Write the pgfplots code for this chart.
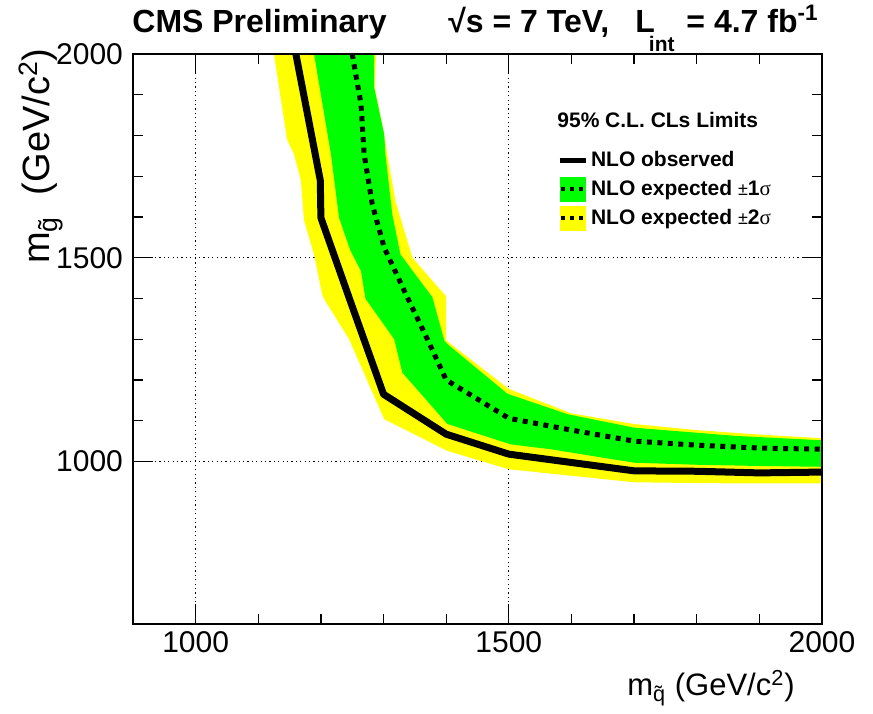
\documentclass[border=0pt]{standalone}
\usepackage{pgfplots}
\pgfplotsset{compat=1.18}
\usepackage{fontspec}
\setmainfont{Liberation Sans}
\newfontfamily\greekserif{Liberation Serif}
\definecolor{rootgreen}{RGB}{0,255,0}
\definecolor{rootyellow}{RGB}{255,255,0}
\newcommand\fs[1]{\fontsize{#1}{#1}\selectfont}
\begin{document}
\begin{tikzpicture}
\begin{axis}[name=ax, scale only axis, width=344.5pt, height=285.25pt,
  xmin=900, xmax=2000, ymin=600, ymax=2000,
  xtick={1000,1500,2000}, ytick={1000,1500,2000},
  minor x tick num=4, minor y tick num=4,
  tick align=inside, xtick pos=both, ytick pos=both,
  major tick length=10pt, minor tick length=5pt,
  every tick/.style={black, line width=0.6pt},
  axis line style={line width=1pt},
  grid=major,
  major grid style={black, line width=0.6pt, dash pattern=on 0.6pt off 1.6pt},
  ticklabel style={font=\fs{15}},
  yticklabel style={xshift=-1.5pt},
  /pgf/number format/assume math mode=true,
  /pgf/number format/1000 sep={},
  xlabel={m\textsubscript{\~{q}} (GeV/c\textsuperscript{2})},
  ylabel={m\textsubscript{\~{g}}\ \ (GeV/c\textsuperscript{2})},
  every axis x label/.style={at={(axis description cs:0.961,-0.1253)}, anchor=base east, inner sep=0pt, font=\fs{15.5}},
  every axis y label/.style={at={(axis description cs:-0.1205,1.0105)}, rotate=90, anchor=base east, inner sep=0pt, font=\fs{19}},
  legend style={at={(axis description cs:0.6154,0.836)}, anchor=north west, draw=none, fill=none, inner sep=0pt, outer sep=0pt, row sep=2pt, font=\bfseries\fs{10.5}, nodes={inner sep=1.5pt}},
  legend cell align=left,
]
% +-2 sigma band
\addplot[fill=rootyellow, draw=none, forget plot] coordinates {
 (1125,2000) (1146,1790) (1157,1754) (1168,1690) (1173,1592) (1189,1508) (1202,1410) (1205,1399) (1245,1300) (1301,1104) (1402,1026) (1500,981) (1600,965) (1700,949) (1800,947) (1900,946) (2000,946)
 (2000,1057) (1900,1066) (1800,1077) (1700,1092) (1600,1118) (1500,1178) (1400,1297) (1400,1405) (1346,1500) (1319,1639) (1306,1754) (1301,1803) (1286,1918) (1288,2000)
} -- cycle;
% +-1 sigma band
\addplot[fill=rootgreen, draw=none, forget plot] coordinates {
 (1189,2000) (1216,1754) (1229,1598) (1247,1518) (1264,1467) (1271,1400) (1317,1300) (1330,1218) (1402,1092) (1503,1042) (1567,1030) (1700,997) (1800,992) (1900,989) (2000,987)
 (2000,1052) (1860,1063) (1700,1083) (1594,1116) (1498,1166) (1402,1288) (1397,1297) (1378,1403) (1327,1508) (1314,1606) (1303,1754) (1301,1803) (1285,1918) (1285,2000)
} -- cycle;
% expected
\addplot[black, line width=2.5pt, dash pattern=on 2.5pt off 2.75pt, forget plot] coordinates {
 (1250,2000) (1264,1877) (1269,1754) (1282,1631) (1301,1525) (1341,1393) (1370,1300) (1400,1200) (1500,1106) (1600,1077) (1700,1050) (1800,1040) (1900,1033) (2000,1030)
};
% observed
\addplot[black, line width=3.5pt, line join=round, forget plot] coordinates {
 (1160,2000) (1199,1690) (1200,1598) (1248,1389) (1300,1165) (1400,1067) (1500,1018) (1700,977) (1800,976) (1900,972) (2000,974)
};
\addlegendimage{legend image code/.code={\path[draw=none, fill=none] (0pt,-6.25pt) rectangle (13pt,6.25pt); \draw[black, line width=2.5pt] (0pt,0pt)--(13pt,0pt);}}
\addlegendentry{NLO observed}
\addlegendimage{legend image code/.code={\fill[rootgreen, draw=none] (0pt,-6.25pt) rectangle (13pt,6.25pt); \draw[black, line width=2pt, dash pattern=on 2pt off 2.5pt] (0.5pt,0pt)--(13pt,0pt);}}
\addlegendentry{NLO expected {\mdseries\fs{9}±}1{\greekserif\mdseries σ}}
\addlegendimage{legend image code/.code={\fill[rootyellow, draw=none] (0pt,-6.25pt) rectangle (13pt,6.25pt); \draw[black, line width=2pt, dash pattern=on 2pt off 2.5pt] (0.5pt,0pt)--(13pt,0pt);}}
\addlegendentry{NLO expected {\mdseries\fs{9}±}2{\greekserif\mdseries σ}}
\end{axis}
\draw[line width=1pt] (ax.south west) rectangle (ax.north east);
\node[anchor=base west, inner sep=0pt, font=\bfseries\fs{10.5}] at ([shift={(212pt,-37pt)}]ax.north west) {95\% C.L. CLs Limits};
\node[anchor=base west, inner sep=0pt, font=\bfseries\fs{16}] at ([shift={(-0.5pt,10.5pt)}]ax.north west) {CMS Preliminary};
\node[anchor=base west, inner sep=0pt, font=\bfseries\fs{16}] at ([shift={(157.5pt,10.5pt)}]ax.north west) {√s = 7 TeV,};
\node[anchor=base west, inner sep=0pt, font=\bfseries\fs{16}] at ([shift={(251pt,10.5pt)}]ax.north west) {L\hspace{-3pt}\raisebox{-9.5pt}{\fs{10.5}int}\hspace{1.5pt} = 4.7 fb\textsuperscript{-1}};
\pgfresetboundingbox
\path[use as bounding box] ([shift={(-66.5pt,-44.75pt)}]ax.south west) rectangle ([shift={(25.5pt,27pt)}]ax.north east);
\end{tikzpicture}
\end{document}
